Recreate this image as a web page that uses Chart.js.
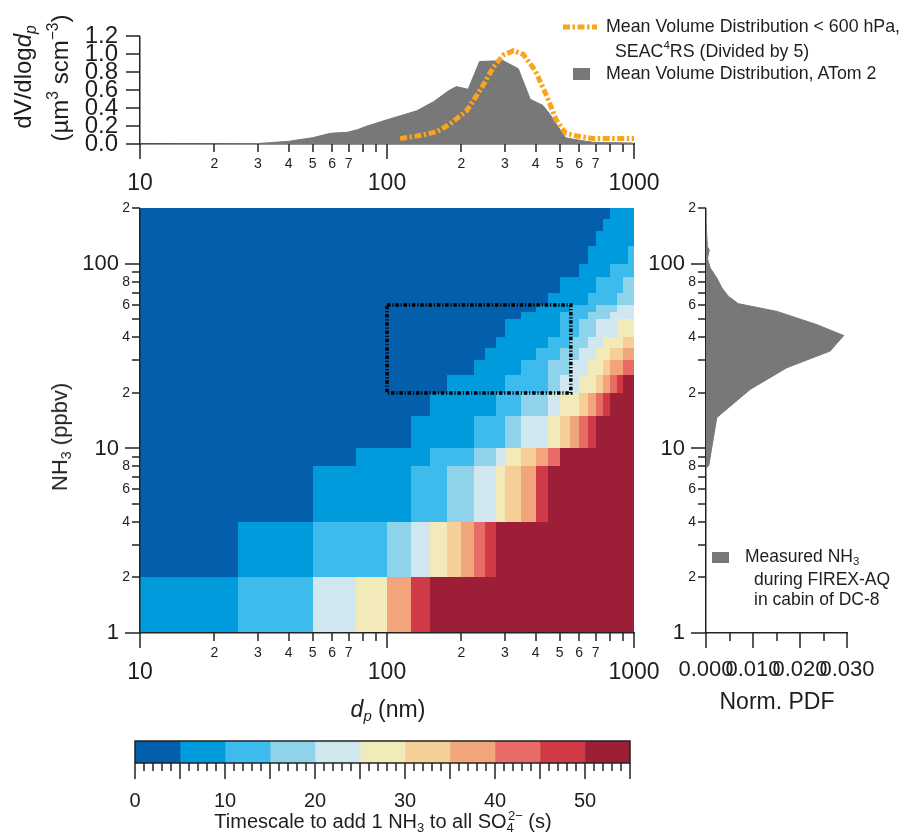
<!DOCTYPE html>
<html>
<head>
<meta charset="utf-8">
<script src="https://cdn.jsdelivr.net/npm/chart.js@4.4.1/dist/chart.umd.min.js"></script>
<style>
  body { margin: 0; background: #fff; }
  #fig { position: relative; width: 906px; height: 832px; font-family: "Liberation Sans", Arial, sans-serif; color: #1e1e1e; }
  canvas { position: absolute; }
  .txt { position: absolute; white-space: nowrap; line-height: 1; }
  .rot { transform: translate(-50%, -50%) rotate(-90deg); }
  .ctr { transform: translate(-50%, -50%); }
  .lft { transform: translateY(-50%); }
  sub, sup { font-size: 0.65em; line-height: 0; position: relative; vertical-align: baseline; }
  sup { top: -0.65em; }
  sub { top: 0.3em; }
  .swatch { position: absolute; background: #787878; }
</style>
</head>
<body>
<div id="fig">
  <canvas id="sizeDist" width="680" height="200" style="left:0px;top:0px"></canvas>
  <canvas id="heat" width="680" height="540" style="left:0px;top:190px"></canvas>
  <canvas id="pdf" width="276" height="540" style="left:630px;top:190px"></canvas>
  <canvas id="cbar" width="560" height="102" style="left:100px;top:730px"></canvas>

  <div class="txt rot" style="left:23px;top:77px;font-size:24px">dV/dlog<i>d</i><sub><i>p</i></sub></div>
  <div class="txt rot" style="left:60px;top:78px;font-size:24px">(µm<sup>3</sup> scm<sup>−3</sup>)</div>

  <svg style="position:absolute;left:562px;top:20px" width="36" height="14">
    <line x1="1" y1="7" x2="35" y2="7" stroke="#f8a51c" stroke-width="5" stroke-dasharray="7 2.5 2.5 2.5"/>
  </svg>
  <div class="txt lft" style="left:606px;top:27px;font-size:17.8px">Mean Volume Distribution &lt; 600 hPa,</div>
  <div class="txt lft" style="left:615px;top:52px;font-size:17.8px">SEAC<sup>4</sup>RS (Divided by 5)</div>
  <div class="swatch" style="left:573px;top:68px;width:17px;height:12px"></div>
  <div class="txt lft" style="left:606px;top:74px;font-size:17.8px">Mean Volume Distribution, ATom 2</div>

  <div class="txt rot" style="left:60px;top:437px;font-size:22px">NH<sub>3</sub> (ppbv)</div>
  <div class="txt ctr" style="left:388px;top:709px;font-size:23px"><i>d</i><sub><i>p</i></sub> (nm)</div>
  <div class="txt ctr" style="left:777px;top:701px;font-size:23px">Norm. PDF</div>

  <div class="swatch" style="left:712px;top:552px;width:17px;height:11px"></div>
  <div class="txt lft" style="left:745px;top:557px;font-size:17.5px">Measured NH<sub>3</sub></div>
  <div class="txt lft" style="left:754px;top:580px;font-size:17.5px">during FIREX-AQ</div>
  <div class="txt lft" style="left:754px;top:600px;font-size:17.5px">in cabin of DC-8</div>

  <div class="txt ctr" style="left:383px;top:821px;font-size:20px">Timescale to add 1 NH<sub>3</sub> to all SO<sub>4</sub><sup style="margin-left:-0.45em">2−</sup> (s)</div>
</div>

<script>
// mean volume size distributions (dp in nm, dV/dlogdp in um3 scm-3)
const atomDp = [10, 20, 30, 40, 50, 59, 69, 76, 83, 100, 132, 154, 179, 191, 213, 237, 295, 340, 380, 428, 457, 528, 608, 680, 1000];
const atomDv = [0, 0.002, 0.005, 0.03, 0.07, 0.12, 0.13, 0.16, 0.2, 0.27, 0.37, 0.47, 0.6, 0.64, 0.61, 0.92, 0.93, 0.84, 0.5, 0.43, 0.33, 0.07, 0.04, 0.02, 0.01];
const seacDp = [113, 140, 160, 179, 210, 242, 270, 295, 325, 356, 398, 444, 484, 528, 588, 684, 1000];
const seacDv = [0.06, 0.1, 0.14, 0.22, 0.37, 0.63, 0.86, 0.99, 1.04, 1.0, 0.82, 0.53, 0.27, 0.12, 0.09, 0.06, 0.06];

// NH3 measured in the DC-8 cabin, normalised pdf
const pdfNh3 = [7.8, 8.1, 14.7, 20.9, 27.4, 33.7, 40.9, 46.9, 55.3, 60.9, 66.7, 74, 84, 95, 107, 119, 124, 169];
const pdfVal = [0, 0.0006, 0.0023, 0.0094, 0.0172, 0.0264, 0.0293, 0.0236, 0.0151, 0.0069, 0.0048, 0.0034, 0.0023, 0.0009, 0.0003, 0.0007, 0.0003, 0];

// timescale grid: NH3 row edges, and per row the dp edges and the 5 s bin index of each cell
const nh3Edges = [1, 2, 4, 8, 10, 15, 20, 25, 30, 35, 40, 50, 55, 60, 70, 85, 100, 125, 150, 175, 200];
const rowDp = [
  [10, 25, 50, 75, 100, 125, 150, 1000],
  [10, 25, 50, 100, 125, 150, 175, 200, 225, 250, 275, 1000],
  [10, 50, 125, 175, 225, 275, 300, 350, 400, 450, 1000],
  [10, 75, 150, 225, 275, 300, 350, 400, 450, 500, 1000],
  [10, 125, 225, 300, 350, 450, 500, 550, 600, 650, 700, 1000],
  [10, 150, 275, 350, 450, 500, 600, 650, 700, 750, 800, 1000],
  [10, 175, 300, 450, 500, 600, 700, 750, 800, 850, 900, 1000],
  [10, 225, 350, 450, 550, 650, 750, 800, 900, 1000],
  [10, 250, 400, 500, 600, 700, 800, 900, 1000],
  [10, 275, 450, 550, 650, 750, 900, 1000],
  [10, 300, 500, 600, 700, 850, 1000],
  [10, 350, 500, 650, 800, 1000],
  [10, 400, 550, 700, 850, 1000],
  [10, 450, 650, 850, 1000],
  [10, 500, 700, 900, 1000],
  [10, 600, 800, 1000],
  [10, 650, 950, 1000],
  [10, 700, 1000],
  [10, 750, 1000],
  [10, 800, 1000]
];
const rowBin = [
  [1, 2, 4, 5, 7, 9, 10],
  [0, 1, 2, 3, 4, 5, 6, 7, 8, 9, 10],
  [0, 1, 2, 3, 4, 5, 6, 7, 9, 10],
  [0, 1, 2, 3, 4, 5, 6, 7, 8, 10],
  [0, 1, 2, 3, 4, 5, 6, 7, 8, 9, 10],
  [0, 1, 2, 3, 4, 5, 6, 7, 8, 9, 10],
  [0, 1, 2, 3, 4, 5, 6, 7, 8, 9, 10],
  [0, 1, 2, 3, 4, 5, 6, 7, 8],
  [0, 1, 2, 3, 4, 5, 6, 7],
  [0, 1, 2, 3, 4, 5, 6],
  [0, 1, 2, 3, 4, 5],
  [0, 1, 2, 3, 4],
  [0, 1, 2, 3, 4],
  [0, 1, 2, 3],
  [0, 1, 2, 3],
  [0, 1, 2],
  [0, 1, 2],
  [0, 1],
  [0, 1],
  [0, 1]
];
const timeEdges = [0, 5, 10, 15, 20, 25, 30, 35, 40, 45, 50, 55];
const binColors = ['#035eab', '#009bdc', '#3dbbec', '#8ed3ea', '#d0e7ef', '#f2eab9', '#f6cf98', '#f2a47a', '#e96b65', '#d03a47', '#9d1f37'];

// outlined region on the grid
const boxDp = [100, 555];
const boxNh3 = [20, 60];

// axis ticks
const dpTicks = [10, 20, 30, 40, 50, 60, 70, 80, 90, 100, 200, 300, 400, 500, 600, 700, 800, 900, 1000];
const dvTicks = [0, 0.2, 0.4, 0.6, 0.8, 1.0, 1.2];
const nh3Ticks = [1, 2, 3, 4, 5, 6, 7, 8, 9, 10, 20, 30, 40, 50, 60, 70, 80, 90, 100, 200];
const pdfTicks = [0, 0.005, 0.01, 0.015, 0.02, 0.025, 0.03];
const cbarTicks = Array.from({length: 56}, (_, i) => i);

const axisColor = '#222';
Chart.defaults.font.family = '"Liberation Sans", Arial, sans-serif';
Chart.defaults.color = '#1e1e1e';

const mant = v => Math.round(v / Math.pow(10, Math.floor(Math.log10(v) + 1e-9)));
const logTickLen = v => (mant(v) === 1 ? 15 : 8);

function tickMarks(rules) {
  return {
    id: 'tickMarks',
    afterDraw(chart) {
      const ctx = chart.ctx;
      ctx.save();
      ctx.strokeStyle = axisColor;
      ctx.lineWidth = 1.5;
      Object.entries(rules).forEach(([id, lengthOf]) => {
        const scale = chart.scales[id];
        scale.ticks.forEach(t => {
          const len = lengthOf(t.value);
          if (!len) return;
          const p = Math.round(scale.getPixelForValue(t.value));
          ctx.beginPath();
          if (scale.isHorizontal()) {
            ctx.moveTo(p, scale.top);
            ctx.lineTo(p, scale.top + len);
          } else {
            ctx.moveTo(scale.right, p);
            ctx.lineTo(scale.right - len, p);
          }
          ctx.stroke();
        });
      });
      ctx.restore();
    }
  };
}

const noGrid = { display: false, drawTicks: false };
const axisBorder = { color: axisColor, width: 1.5 };

function dpScale(h) {
  return {
    type: 'logarithmic', min: 10, max: 1000,
    afterFit: s => { s.height = h; },
    afterBuildTicks: s => { s.ticks = dpTicks.map(v => ({ value: v })); },
    grid: noGrid, border: axisBorder,
    ticks: {
      autoSkip: false, maxRotation: 0, minRotation: 0, padding: 12,
      callback: v => { const m = mant(v); return m === 1 ? ['', String(v)] : (m <= 7 ? String(m) : ''); },
      font: c => (c.tick && mant(c.tick.value) === 1) ? { size: 23, lineHeight: 0.8 } : { size: 14, lineHeight: 1.2 }
    }
  };
}

function nh3Scale(w) {
  return {
    type: 'logarithmic', min: 1, max: 200,
    afterFit: s => { s.width = w; },
    afterBuildTicks: s => { s.ticks = nh3Ticks.map(v => ({ value: v })); },
    grid: noGrid, border: axisBorder,
    ticks: {
      autoSkip: false, padding: 10,
      callback: v => { const m = mant(v); return m === 1 ? v + '\u2002' : (m % 2 === 0 ? String(m) : ''); },
      font: c => (c.tick && mant(c.tick.value) === 1) ? { size: 22 } : { size: 14 }
    }
  };
}

const base = { animation: false, responsive: false, events: [], plugins: { legend: { display: false }, tooltip: { enabled: false } } };

// size distributions
new Chart(document.getElementById('sizeDist'), {
  type: 'line',
  data: {
    datasets: [{
      data: seacDp.map((d, i) => ({ x: d, y: seacDv[i] })),
      borderColor: '#f8a51c', borderWidth: 5, borderDash: [7, 2.5, 2.5, 2.5],
      pointRadius: 0, fill: false, order: 0
    }, {
      data: atomDp.map((d, i) => ({ x: d, y: atomDv[i] })),
      borderColor: '#787878', borderWidth: 1, backgroundColor: '#787878',
      pointRadius: 0, fill: 'origin', order: 1
    }]
  },
  options: {
    ...base,
    layout: { padding: { top: 21, right: 46, left: 0, bottom: 0 } },
    scales: {
      x: dpScale(56),
      y: {
        min: 0, max: 1.2,
        afterFit: s => { s.width = 140; },
        afterBuildTicks: s => { s.ticks = dvTicks.map(v => ({ value: v })); },
        grid: noGrid, border: axisBorder,
        ticks: { autoSkip: false, padding: 22, font: { size: 24 }, callback: v => v.toFixed(1) }
      }
    }
  },
  plugins: [tickMarks({ x: logTickLen, y: () => 14 })]
});

// timescale grid
const gridCells = {
  id: 'gridCells',
  beforeDraw(chart) {
    const { ctx, scales: { x, y } } = chart;
    ctx.save();
    rowDp.forEach((edges, r) => {
      const yTop = Math.round(y.getPixelForValue(nh3Edges[r + 1]));
      const yBot = Math.round(y.getPixelForValue(nh3Edges[r]));
      rowBin[r].forEach((bin, c) => {
        const x0 = Math.round(x.getPixelForValue(edges[c]));
        const x1 = Math.round(x.getPixelForValue(edges[c + 1]));
        ctx.fillStyle = binColors[bin];
        ctx.fillRect(x0, yTop, x1 - x0, yBot - yTop);
      });
    });
    ctx.restore();
  }
};
const regionBox = {
  id: 'regionBox',
  afterDraw(chart) {
    const { ctx, scales: { x, y } } = chart;
    const x0 = x.getPixelForValue(boxDp[0]), x1 = x.getPixelForValue(boxDp[1]);
    const y0 = y.getPixelForValue(boxNh3[1]), y1 = y.getPixelForValue(boxNh3[0]);
    ctx.save();
    ctx.strokeStyle = '#000';
    ctx.lineWidth = 3.5;
    ctx.setLineDash([3.5, 1.8, 1.2, 1.8]);
    ctx.strokeRect(x0, y0, x1 - x0, y1 - y0);
    ctx.restore();
  }
};
new Chart(document.getElementById('heat'), {
  type: 'scatter',
  data: { datasets: [] },
  options: {
    ...base,
    layout: { padding: { top: 15, right: 46, left: 0, bottom: 0 } },
    scales: { x: dpScale(97), y: nh3Scale(140) }
  },
  plugins: [gridCells, regionBox, tickMarks({ x: logTickLen, y: logTickLen })]
});

// NH3 pdf
new Chart(document.getElementById('pdf'), {
  type: 'line',
  data: {
    datasets: [{
      data: pdfNh3.map((n, i) => ({ x: pdfVal[i], y: n })),
      borderColor: '#787878', borderWidth: 1, backgroundColor: '#787878',
      pointRadius: 0, fill: 'origin'
    }]
  },
  options: {
    ...base,
    indexAxis: 'y',
    layout: { padding: { top: 15, right: 59, left: 0, bottom: 0 } },
    scales: {
      x: {
        type: 'linear', min: 0, max: 0.03,
        afterFit: s => { s.height = 97; },
        afterBuildTicks: s => { s.ticks = pdfTicks.map(v => ({ value: v })); },
        grid: noGrid, border: axisBorder,
        ticks: {
          autoSkip: false, maxRotation: 0, minRotation: 0, padding: 24, font: { size: 22 },
          callback: v => (Math.round(v * 1000) % 10 === 0 ? v.toFixed(3) : '')
        }
      },
      y: nh3Scale(76)
    }
  },
  plugins: [tickMarks({ x: v => (Math.round(v * 1000) % 10 === 0 ? 15 : 8), y: logTickLen })]
});

// colour bar
const barFrame = {
  id: 'barFrame',
  afterDraw(chart) {
    const { ctx, chartArea: a } = chart;
    ctx.save();
    ctx.strokeStyle = axisColor;
    ctx.lineWidth = 1.5;
    ctx.strokeRect(a.left, a.top, a.right - a.left, a.bottom - a.top);
    ctx.restore();
  }
};
new Chart(document.getElementById('cbar'), {
  type: 'bar',
  data: {
    labels: [''],
    datasets: binColors.map((c, k) => ({
      data: [[timeEdges[k], timeEdges[k + 1]]],
      backgroundColor: c, borderWidth: 0, grouped: false,
      barPercentage: 1, categoryPercentage: 1
    }))
  },
  options: {
    ...base,
    indexAxis: 'y',
    layout: { padding: { top: 11, right: 30, left: 35, bottom: 0 } },
    scales: {
      y: { display: false },
      x: {
        type: 'linear', min: 0, max: 55,
        afterFit: s => { s.height = 69; },
        afterBuildTicks: s => { s.ticks = cbarTicks.map(v => ({ value: v })); },
        grid: noGrid, border: { display: false },
        ticks: {
          autoSkip: false, maxRotation: 0, minRotation: 0, padding: 26, font: { size: 20 },
          callback: v => (v % 10 === 0 ? String(v) : '')
        }
      }
    }
  },
  plugins: [barFrame, tickMarks({ x: v => (v % 5 === 0 ? 16 : 8) })]
});
</script>
</body>
</html>
